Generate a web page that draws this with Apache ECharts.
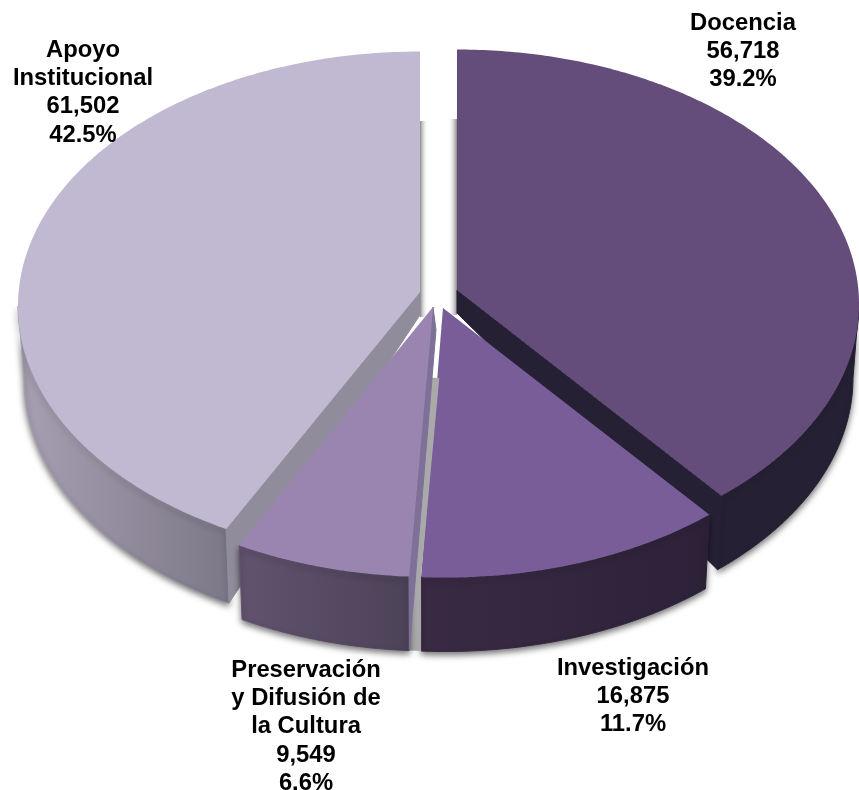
<!DOCTYPE html>
<html><head><meta charset="utf-8">
<style>html,body{margin:0;padding:0;background:#fff}#c{width:859px;height:790px}</style>
<script src="https://cdn.jsdelivr.net/npm/echarts@6/dist/echarts.min.js"></script>
</head><body><div id="c"></div>
<script>
const categories = ['Docencia', 'Investigación', 'Preservación\ny Difusión de\nla Cultura', 'Apoyo\nInstitucional'];
const values = [56718, 16875, 9549, 61502];
const percents = ['39.2%', '11.7%', '6.6%', '42.5%'];

const total = values.reduce((a, b) => a + b, 0);
const RX = 402, RY = 254.5, DEPTH = 74, BOTTOM_SCALE = 0.985, CUT_DEPTH = 23;
// drawing order: back slices first
const layer = [2, 4, 6, 0];
const geo = [
  {cx: 457, cy: 304, ax: 457, ay: 290},
  {cx: 445, cy: 323, ax: 443, ay: 308},
  {cx: 433, cy: 322.5, ax: 433, ay: 307},
  {cx: 420, cy: 306, ax: 420, ay: 292}
];
const colors = [
  {top: '#644d7b', cut: '#262034', wall: ['#262034', '#262034']},
  {top: '#785d98', cut: '#30243f', wall: ['#3a2a44', '#2c2238']},
  {top: '#9a85b1', cut: '#7f7098', wall: ['#62526f', '#4c4358']},
  {top: '#c1b8d1', cut: '#918c9b', wall: ['#a6a0b2', '#7d7888']}
];
const labelPos = [[743, 9], [633, 654], [306, 656], [83, 36]];

const warp = t => t + 2.35 * Math.PI / 180 * Math.sin(2 * t);
function angles(i) {
  let s = 0;
  for (let k = 0; k < i; k++) s += values[k];
  return [warp(s / total * 2 * Math.PI), warp((s + values[i]) / total * 2 * Math.PI)];
}
function topPt(g, t) { return [g.cx + RX * Math.sin(t), g.cy - RY * Math.cos(t)]; }
function botPt(g, t) {
  return [g.cx + RX * BOTTOM_SCALE * Math.sin(t), g.cy + DEPTH - RY * Math.cos(t)];
}
function arc(fn, g, a, b) {
  const n = Math.max(2, Math.ceil(Math.abs(b - a) * 90)), out = [];
  for (let i = 0; i <= n; i++) out.push(fn(g, a + (b - a) * i / n));
  return out;
}
const shadow = {shadowBlur: 6, shadowColor: 'rgba(0,0,0,0.55)', shadowOffsetX: 0, shadowOffsetY: 3};

function renderItem(params, api) {
  const i = params.dataIndex, v = api.value(0), g = geo[i], c = colors[i];
  const [t0, t1] = angles(i), z = layer[i], kids = [];
  const H = Math.PI / 2;

  // cut faces
  const cutAt = t => ({type: 'polygon', z2: z,
    shape: {points: [[g.ax, g.ay], [g.ax + (i === 2 ? 3 : 0), g.ay + CUT_DEPTH], botPt(g, t), topPt(g, t)]},
    style: {fill: c.cut, stroke: c.cut, lineWidth: 1}});

  // soft grey shading next to the central gap
  if (i === 0 || i === 3) {
    const w = i === 0 ? -9 : 8;
    kids.push({type: 'rect', z2: z - 1,
      shape: {x: Math.min(g.ax, g.ax + w), y: g.ay - 171, width: Math.abs(w), height: 196},
      style: {fill: new echarts.graphic.LinearGradient(w < 0 ? 1 : 0, 0, w < 0 ? 0 : 1, 0,
        [{offset: 0, color: '#8a8a8a'}, {offset: 1, color: 'rgba(255,255,255,0)'}])}});
  }

  // grey sliver between Preservación and Investigación
  if (i === 2) {
    const inv = geo[1], invT = angles(1)[1], pT = angles(2)[0];
    const iTop = topPt(inv, invT), pBot = botPt(g, pT);
    const f = 0.26;
    kids.push({type: 'polygon', z2: z - 1,
      shape: {points: [
        [g.ax + (iTop[0] - g.ax) * f - 6, g.ay + (iTop[1] - g.ay) * f],
        [inv.ax + (iTop[0] - inv.ax) * f + 2, inv.ay + (iTop[1] - inv.ay) * f],
        iTop, [iTop[0], iTop[1] + 74], pBot]},
      style: {fill: '#a9a9a9'}});
  }

  // outer wall: visible front part only
  const a = Math.max(t0, H), b = Math.min(t1, 3 * H);
  if (b > a) {
    const pts = arc(topPt, g, a, b).concat(arc(botPt, g, b, a));
    const xs = pts.map(p => p[0]);
    const grad = () => new echarts.graphic.LinearGradient(Math.min(...xs), 0, Math.max(...xs), 0,
      [{offset: 0, color: c.wall[0]}, {offset: 1, color: c.wall[1]}], true);
    kids.push({type: 'polygon', z2: z, shape: {points: pts},
      style: Object.assign({fill: grad(), stroke: grad(), lineWidth: 1}, shadow)});
  }

  // cut faces sit over the wall's soft shadow
  if (i === 0) kids.push(cutAt(t1));
  if (i === 3) kids.push(cutAt(t0));
  if (i === 2) kids.push(cutAt(t0));

  // top face
  kids.push({type: 'polygon', z2: z + 1,
    shape: {points: [[g.ax, g.ay]].concat(arc(topPt, g, t0, t1))},
    style: {fill: c.top}});

  // label
  const txt = categories[i] + '\n' + v.toLocaleString('en-US') + '\n' + percents[i];
  kids.push({type: 'text', z2: 20, x: labelPos[i][0], y: labelPos[i][1],
    style: {text: txt, textAlign: 'center', textVerticalAlign: 'top',
      font: 'bold 23.8px "Liberation Sans", Arial, sans-serif', lineHeight: 28.3, fill: '#000'}});

  return {type: 'group', children: kids};
}

const chart = echarts.init(document.getElementById('c'), null, {renderer: 'canvas'});
chart.setOption({
  animation: false,
  backgroundColor: '#ffffff',
  series: [{
    type: 'custom', coordinateSystem: 'none', silent: true,
    renderItem, data: values.map(v => [v])
  }]
});
</script></body></html>
